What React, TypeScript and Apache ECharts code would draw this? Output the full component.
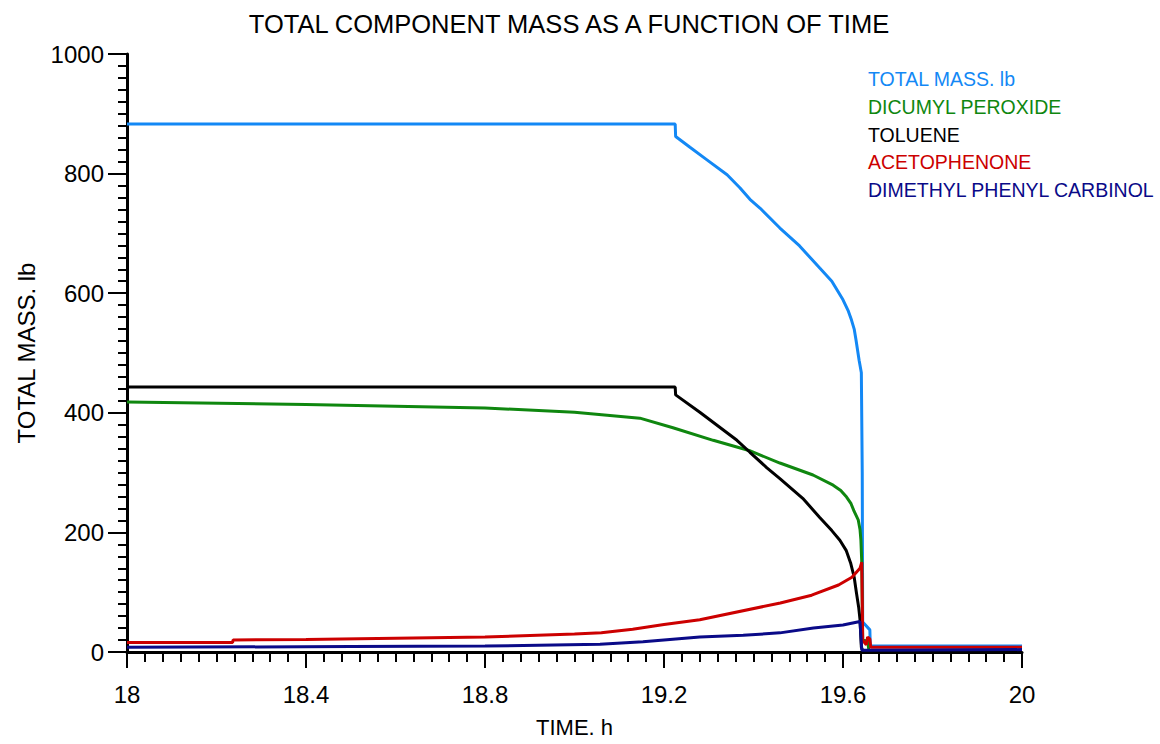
import React, { useEffect, useRef } from "react";
import * as echarts from "echarts";

const xTicks = [18, 18.4, 18.8, 19.2, 19.6, 20];
const yTicks = [0, 200, 400, 600, 800, 1000];

const seriesNames = [
  "TOTAL MASS. lb",
  "DICUMYL PEROXIDE",
  "TOLUENE",
  "ACETOPHENONE",
  "DIMETHYL PHENYL CARBINOL",
];

const totalMass: number[][] = [
  [18, 883], [19.225, 883], [19.226, 862], [19.258, 844], [19.296, 823],
  [19.341, 798], [19.37, 776], [19.392, 757], [19.415, 742], [19.459, 709],
  [19.503, 679], [19.548, 642], [19.575, 620], [19.6, 589], [19.612, 570],
  [19.619, 555], [19.625, 540], [19.629, 522], [19.636, 488], [19.641, 467],
  [19.643, 300], [19.644, 50], [19.66, 37], [19.661, 10], [20, 10],
];

const dicumylPeroxide: number[][] = [
  [18, 418], [18.4, 414], [18.8, 408], [19.0, 401], [19.146, 391],
  [19.22, 375], [19.31, 354], [19.39, 337], [19.459, 316], [19.533, 296],
  [19.578, 279], [19.595, 270], [19.608, 259], [19.618, 248], [19.625, 235],
  [19.634, 221], [19.638, 205], [19.64, 187], [19.642, 149], [19.644, 20],
  [19.655, 18], [19.658, 2], [20, 2],
];

const toluene: number[][] = [
  [18, 443], [19.225, 443], [19.226, 430], [19.28, 401], [19.363, 354],
  [19.392, 334], [19.43, 308], [19.459, 290], [19.51, 257], [19.548, 225],
  [19.575, 203], [19.593, 187], [19.607, 170], [19.617, 149], [19.625, 125],
  [19.63, 99], [19.635, 75], [19.638, 54], [19.641, 8], [19.645, 1], [20, 1],
];

const acetophenone: number[][] = [
  [18, 16], [18.236, 16], [18.237, 20], [18.4, 21], [18.8, 25], [19.0, 30],
  [19.06, 32], [19.13, 38], [19.2, 46], [19.28, 54], [19.46, 82], [19.53, 95],
  [19.59, 112], [19.62, 125], [19.638, 140], [19.642, 150], [19.644, 20],
  [19.652, 12], [19.655, 25], [19.66, 22], [19.662, 8], [20, 8],
];

const dimethylPhenylCarbinol: number[][] = [
  [18, 8], [18.5, 9], [18.8, 10], [19.057, 13], [19.153, 17], [19.28, 25],
  [19.377, 28], [19.459, 32], [19.534, 40], [19.6, 45], [19.638, 51],
  [19.642, 3], [20, 4],
];

const colors = ["#1388F5", "#0F870F", "#000000", "#CC0000", "#0A0A88"];
const seriesData = [totalMass, dicumylPeroxide, toluene, acetophenone, dimethylPhenylCarbinol];

const FONT = "'Liberation Sans', Arial, sans-serif";

export default function App() {
  const ref = useRef<HTMLDivElement>(null);
  useEffect(() => {
    if (!ref.current) return;
    const chart = echarts.init(ref.current, undefined, { renderer: "svg" });
    chart.setOption({
      animation: false,
      backgroundColor: "#ffffff",
      textStyle: { fontFamily: FONT },
      title: {
        text: "TOTAL COMPONENT MASS AS A FUNCTION OF TIME",
        left: 564,
        textAlign: "center",
        top: 6,
        textStyle: { fontFamily: FONT, fontSize: 25.5, fontWeight: "normal", color: "#000" },
      },
      legend: {
        orient: "vertical",
        left: 863,
        top: 69,
        padding: 0,
        icon: "none",
        itemWidth: 0,
        itemHeight: 14,
        itemGap: 7.8,
        selectedMode: false,
        textStyle: { fontFamily: FONT, fontSize: 19.5 },
        data: seriesNames.map((n, i) => ({ name: n, textStyle: { color: colors[i] } })),
      },
      grid: { left: 127, right: 138, top: 54, bottom: 92, containLabel: false },
      xAxis: {
        type: "value",
        min: xTicks[0],
        max: xTicks[xTicks.length - 1],
        interval: 0.4,
        name: "TIME. h",
        nameLocation: "middle",
        nameGap: 64,
        nameTextStyle: { fontFamily: FONT, fontSize: 22, color: "#000" },
        axisLine: { show: true, lineStyle: { color: "#000", width: 3 } },
        axisTick: { show: true, length: 16, lineStyle: { color: "#000", width: 2 } },
        minorTick: { show: true, splitNumber: 10, length: 10, lineStyle: { color: "#000", width: 2 } },
        splitLine: { show: false },
        axisLabel: {
          margin: 30,
          fontFamily: FONT,
          fontSize: 24,
          color: "#000",
          formatter: (v: number) => {
            const m = xTicks.find((t) => Math.abs(t - v) < 1e-6);
            return m !== undefined ? String(m) : "";
          },
        },
      },
      yAxis: {
        type: "value",
        min: yTicks[0],
        max: yTicks[yTicks.length - 1],
        interval: 200,
        name: "TOTAL MASS. lb",
        nameLocation: "middle",
        nameRotate: 90,
        nameGap: 89,
        nameTextStyle: { fontFamily: FONT, fontSize: 24, color: "#000" },
        axisLine: { show: true, lineStyle: { color: "#000", width: 3 } },
        axisTick: { show: true, length: 19, lineStyle: { color: "#000", width: 2 } },
        minorTick: { show: true, splitNumber: 10, length: 9, lineStyle: { color: "#000", width: 2 } },
        splitLine: { show: false },
        axisLabel: {
          margin: 23,
          fontFamily: FONT,
          fontSize: 24,
          color: "#000",
          formatter: (v: number) => {
            const m = yTicks.find((t) => Math.abs(t - v) < 1e-6);
            return m !== undefined ? String(m) : "";
          },
        },
      },
      series: seriesNames.map((n, i) => ({
        name: n,
        type: "line",
        data: seriesData[i],
        showSymbol: false,
        symbol: "none",
        color: colors[i],
        lineStyle: { color: colors[i], width: 3 },
        z: 2 + i,
      })),
    });
    return () => chart.dispose();
  }, []);
  return (
    <div
      ref={ref}
      style={{ position: "fixed", left: 0, top: 0, width: 1160, height: 744, background: "#fff" }}
    />
  );
}
